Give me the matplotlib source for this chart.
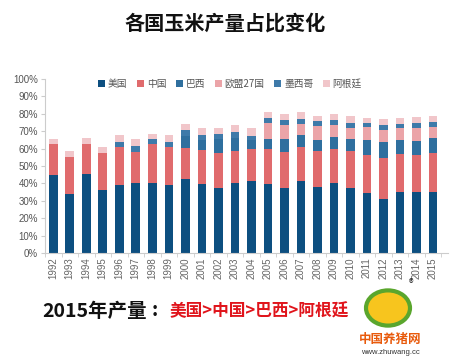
import numpy as np
import matplotlib.pyplot as plt
from matplotlib.patches import Circle

plt.rcParams['font.family'] = ['Noto Sans CJK SC', 'DejaVu Sans']

# Datos (% de cada tramo)
anios = [str(a) for a in range(1992, 2016)]
paises = ['美国', '中国', '巴西', '欧盟27国', '墨西哥', '阿根廷']
colores = ['#0d4f80', '#e06b6d', '#2f6f9e', '#eba4a8', '#3e7aa9', '#f1c6ca']

usa = [45.0, 33.8, 45.3, 36.1, 39.2, 40.2, 40.5, 38.8, 42.4, 39.8, 37.3, 40.3,
       41.3, 39.6, 37.1, 41.3, 37.7, 40.0, 37.3, 34.6, 30.8, 34.8, 34.8, 34.8]
china = [17.5, 21.3, 17.4, 21.3, 21.4, 17.7, 22.2, 21.8, 18.0, 19.1, 20.1, 18.4,
         18.7, 20.4, 21.0, 19.3, 20.8, 20.0, 21.4, 21.6, 23.5, 22.0, 21.4, 22.9]
brasil = [0, 0, 0, 0, 0, 0, 0, 0, 6.9, 6.1, 8.2, 7.6,
          4.8, 5.4, 7.5, 7.1, 6.3, 6.7, 6.7, 8.6, 9.6, 8.0, 8.3, 8.6]
ue27 = [0, 0, 0, 0, 0, 0, 0, 0, 0, 0, 0, 0,
        0, 9.0, 7.8, 6.1, 8.0, 6.7, 6.5, 7.3, 6.7, 6.7, 7.4, 6.2]
mexico = [0, 0, 0, 0, 3.4, 3.7, 2.7, 2.9, 3.1, 2.9, 2.9, 3.3,
          2.3, 3.2, 2.9, 3.1, 2.9, 2.9, 2.9, 2.7, 2.8, 2.5, 2.9, 2.5]
argentina = [2.9, 3.2, 3.3, 3.2, 3.5, 4.0, 3.1, 4.0, 3.8, 3.8, 3.2, 3.8,
             4.4, 3.1, 3.8, 3.8, 3.1, 3.8, 4.0, 3.0, 3.8, 3.6, 3.4, 3.6]

series = [usa, china, brasil, ue27, mexico, argentina]

fig = plt.figure(figsize=(4.5, 3.6), dpi=100)
ax = fig.add_axes([0.1, 0.297, 0.895, 0.484])

x = np.arange(len(anios))
base = np.zeros(len(anios))
for nombre, datos, c in zip(paises, series, colores):
    d = np.array(datos)
    ax.bar(x, d, 0.52, bottom=base, color=c, label=nombre)
    base += d

ax.set_ylim(0, 100)
ax.set_xlim(-0.5, 23.9)
ax.set_yticks(range(0, 101, 10))
ax.set_yticklabels([f'{v}%' for v in range(0, 101, 10)], color='#555555', fontsize=7,
                   family=['Liberation Sans', 'DejaVu Sans'])
ax.set_xticks(x)
ax.set_xticklabels(anios, rotation=90, color='#666666', fontsize=7,
                   family=['Liberation Sans', 'DejaVu Sans'])
ax.set_xticks(np.arange(-0.5, 24, 1), minor=True)
ax.tick_params(axis='x', which='major', length=0, pad=3)
ax.tick_params(axis='x', which='minor', length=3, color='#cccccc')
ax.tick_params(axis='y', length=3, color='#cccccc', pad=2)
for s in ['top', 'right']:
    ax.spines[s].set_visible(False)
ax.spines['left'].set_color('#cccccc')
ax.spines['bottom'].set_color('#cccccc')

ax.legend(loc='upper left', bbox_to_anchor=(0.11, 1.05), ncol=6, frameon=False,
          fontsize=7, handlelength=0.7, handleheight=0.7, handletextpad=0.3,
          columnspacing=1.0, labelcolor='#555555')

fig.text(0.5, 0.935, '各国玉米产量占比变化', ha='center', va='center',
         fontsize=14.5, fontweight='bold', color='#111111')

fig.text(42 / 450, 0.135, '2015年产量', ha='left', va='center', fontsize=14,
         fontweight='bold', color='#111111')
fig.text(152 / 450, 0.138, ':', ha='left', va='center', fontsize=14,
         fontweight='bold', color='#111111')
fig.text(170 / 450, 0.135, '美国>中国>巴西>阿根廷', ha='left', va='center',
         fontsize=12, fontweight='bold', color='#e0141b')

# logo aproximado
logo = Circle((388 / 450, 1 - 308 / 360), 22 / 450, transform=fig.transFigure,
              facecolor='#f7c51e', edgecolor='#5aa62d', linewidth=3, zorder=5)
fig.patches.append(logo)
fig.text(411 / 450, 1 - 284 / 360, '®', ha='center', va='center', fontsize=7, color='#222222')
fig.text(390 / 450, 1 - 339 / 360, '中国养猪网', ha='center', va='center', fontsize=9,
         fontweight='bold', color='#e85a0c')
fig.text(390 / 450, 1 - 352 / 360, 'www.zhuwang.cc', ha='center', va='center', fontsize=5.5,
         color='#333333', family=['Liberation Sans', 'DejaVu Sans'])

fig.savefig('out.png', dpi=100)
